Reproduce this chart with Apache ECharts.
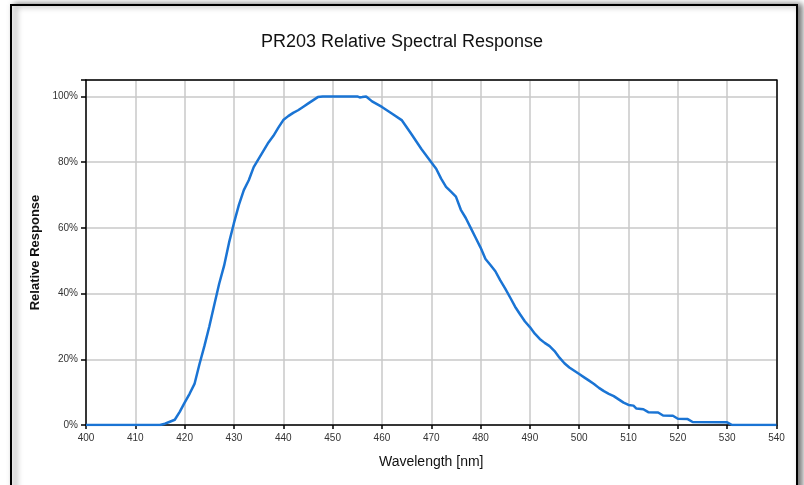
<!DOCTYPE html>
<html>
<head>
<meta charset="utf-8">
<script src="https://cdn.jsdelivr.net/npm/echarts@6/dist/echarts.min.js"></script>
<style>
html,body{margin:0;padding:0;background:#fff;}
#chart{width:804px;height:485px;}
</style>
</head>
<body>
<div id="chart"></div>
<script>
var wavelengths = [400,410,415,416,417,418,419,420,421,422,423,424,425,426,427,428,429,430,431,432,433,434,435,436,437,438,439,440,441,442,443,444,445,446,447,448,455,455.5,456,456.8,458,460,462,464,466,468,470,471,472,473,474,475,476,477,478,479,480,481,482,483,484,485,486,487,488,489,490,491,492,493,494,495,496,497,498,499,500,501,502,503,504,505,506,507,508,509,510,511,511.6,513,514,516,517,519,520,522,523,530,531,540];
var response = [0,0,0,0.4,1.0,1.6,4,6.8,9.5,12.5,18.5,24,30,36.5,43,48.5,55.5,61.5,67,71.5,74.5,78.5,81,83.5,86,88,90.5,92.8,94,95,95.8,96.8,97.8,98.8,99.8,100,100,99.7,99.8,100,98.5,96.8,94.8,92.8,88.5,84,80,78,75,72.5,71,69.5,65.5,63,60,57,54,50.5,48.7,46.8,44,41.5,38.8,36,33.7,31.5,29.8,27.8,26.2,25,24,22.5,20.5,18.8,17.5,16.5,15.5,14.5,13.5,12.5,11.3,10.3,9.5,8.8,7.8,6.8,6.1,5.9,5.0,4.8,3.9,3.8,2.9,2.8,1.9,1.8,0.9,0.8,0,0];
var xTicks = {min:400, max:540, step:10};
var yTicks = {min:0, max:100, step:20};
var titleText = 'PR203 Relative Spectral Response';
var xName = 'Wavelength [nm]';
var yName = 'Relative Response';

var seriesData = wavelengths.map(function(w,i){return [w, response[i]];});
var chart = echarts.init(document.getElementById('chart'), null, {renderer:'canvas'});
var font = 'Liberation Sans, Arial, sans-serif';
var frameAxis = {show:true, axisLine:{show:true, onZero:false, lineStyle:{color:'#000', width:1.5}},
  axisTick:{show:false}, axisLabel:{show:false}, splitLine:{show:false}};
chart.setOption({
  animation:false,
  backgroundColor:'#fff',
  graphic:[{
    type:'rect', z:-10, silent:true,
    shape:{x:11, y:5, width:786, height:520},
    style:{fill:'#fff', stroke:'#000', lineWidth:2, shadowBlur:6, shadowColor:'rgba(0,0,0,0.55)', shadowOffsetX:4, shadowOffsetY:0}
  }],
  title:{text:titleText, left:'center', top:28,
    textStyle:{fontFamily:font, fontSize:18, fontWeight:'normal', color:'#111'}},
  grid:{left:86, top:80, right:27.5, bottom:60, show:false},
  xAxis:[{type:'value', min:xTicks.min, max:xTicks.max, interval:xTicks.step,
    name:xName, nameLocation:'middle', nameGap:30,
    nameTextStyle:{fontFamily:font, fontSize:14, color:'#111'},
    axisLine:{show:true, onZero:false, lineStyle:{color:'#000', width:1.5}},
    axisTick:{show:true, inside:false, length:4, lineStyle:{color:'#000', width:1.5}},
    axisLabel:{fontFamily:font, fontSize:10, color:'#333', margin:8},
    splitLine:{show:true, lineStyle:{color:'#c8c8c8', width:1.5}}},
    Object.assign({type:'value', position:'top', min:xTicks.min, max:xTicks.max}, frameAxis)],
  yAxis:[{type:'value', min:yTicks.min, max:105, interval:yTicks.step,
    name:yName, nameLocation:'middle', nameGap:40, nameRotate:90,
    nameTextStyle:{fontFamily:font, fontSize:13, fontWeight:'bold', color:'#111'},
    axisLine:{show:true, onZero:false, lineStyle:{color:'#000', width:1.5}},
    axisTick:{show:true, inside:false, length:5, lineStyle:{color:'#000', width:1.5}},
    axisLabel:{fontFamily:font, fontSize:10, color:'#333', margin:8,
      formatter:function(v){return (v % yTicks.step === 0 && v <= yTicks.max) ? v + '%' : '';}},
    splitLine:{show:true, lineStyle:{color:'#c8c8c8', width:1.5}}},
    Object.assign({type:'value', position:'right', min:0, max:105}, frameAxis)],
  series:[{type:'line', xAxisIndex:0, yAxisIndex:0, data:seriesData, showSymbol:false, smooth:false,
    lineStyle:{color:'#1a74d4', width:2.5}, itemStyle:{color:'#1a74d4'}, clip:true}]
});
</script>
</body>
</html>
